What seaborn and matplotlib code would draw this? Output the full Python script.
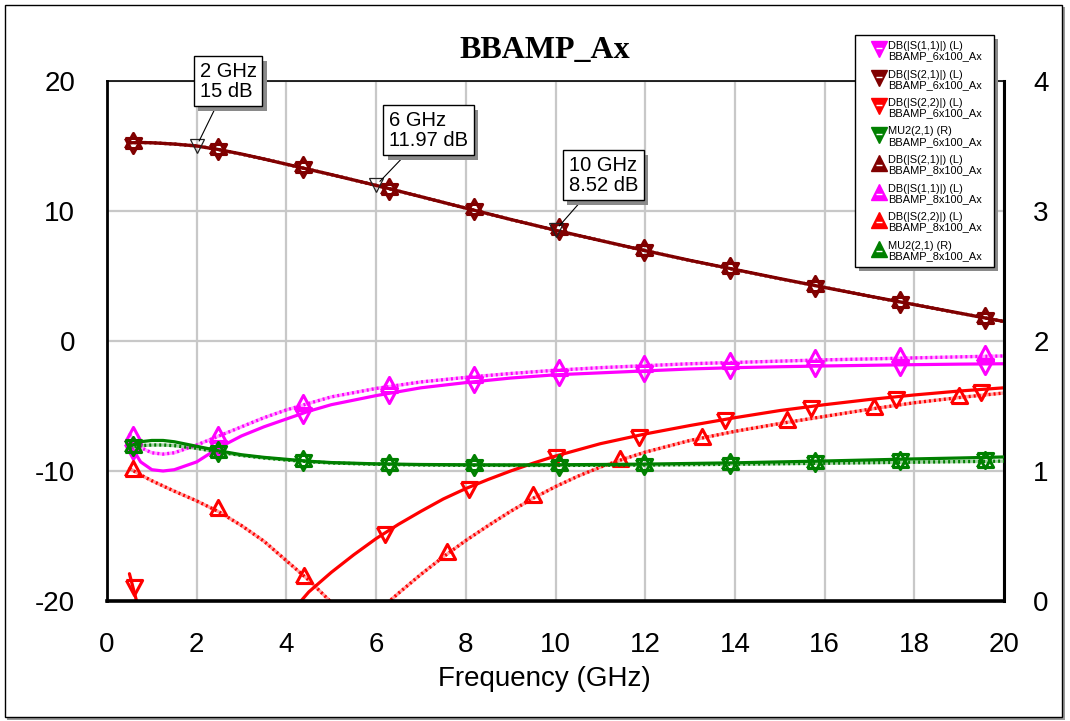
import numpy as np
import pandas as pd
import matplotlib
matplotlib.use("Agg")
import matplotlib.pyplot as plt
import seaborn as sns
from matplotlib.lines import Line2D
from matplotlib.patches import Rectangle
from matplotlib.markers import MarkerStyle
from matplotlib import patheffects as pe

sns.set_theme(style="white")
plt.rcParams["font.family"] = ["Liberation Sans", "DejaVu Sans"]

# ---------------------------------------------------------------- data
FREQ_GHZ = [0.5, 0.75, 1.0, 1.25, 1.5, 2, 2.5, 3, 3.5, 4, 4.5, 5, 6, 7, 8, 9,
            10, 11, 12, 13, 14, 15, 16, 17, 18, 19, 20]

# left axis traces (dB)
S11_6X100 = [-7.9, -9.3, -9.9, -10.0, -9.9, -9.3, -8.2, -7.3, -6.6, -6.0, -5.4, -4.9,
             -4.2, -3.6, -3.2, -2.85, -2.6, -2.45, -2.3, -2.15, -2.05, -1.98, -1.92,
             -1.87, -1.82, -1.78, -1.75]
S21_6X100 = [15.25, 15.27, 15.25, 15.2, 15.15, 15.0, 14.72, 14.38, 14.0, 13.6, 13.2,
             12.8, 11.97, 11.1, 10.22, 9.35, 8.52, 7.73, 6.95, 6.2, 5.5, 4.8, 4.12,
             3.45, 2.8, 2.15, 1.5]
S21_8X100 = [15.25, 15.27, 15.25, 15.2, 15.15, 15.0, 14.72, 14.38, 14.0, 13.6, 13.2,
             12.8, 11.97, 11.1, 10.22, 9.35, 8.52, 7.73, 6.95, 6.2, 5.5, 4.8, 4.12,
             3.45, 2.8, 2.15, 1.5]
S11_8X100 = [-7.2, -8.2, -8.6, -8.7, -8.6, -8.0, -7.3, -6.6, -5.9, -5.3, -4.8, -4.3,
             -3.65, -3.15, -2.8, -2.5, -2.25, -2.05, -1.9, -1.75, -1.65, -1.55, -1.45,
             -1.38, -1.3, -1.22, -1.15]

# output match traces, sampled more finely where they bend
S22_6X100_FREQ = [0.5, 0.75, 1.0, 4.0, 4.5, 5.0, 5.5, 6.0, 6.5, 7.0, 7.5, 8.0, 8.5,
                  9.0, 9.5, 10, 11, 12, 13, 14, 15, 16, 17, 18, 19, 20]
S22_6X100 = [-17.9, -21.2, np.nan, -21.3, -19.3, -17.8, -16.45, -15.2, -14.1, -13.1,
             -12.15, -11.35, -10.65, -10.0, -9.4, -8.85, -7.9, -7.15, -6.5, -5.9,
             -5.35, -4.9, -4.5, -4.15, -3.85, -3.6]
S22_8X100_FREQ = [0.5, 0.75, 1.0, 1.5, 2.0, 2.5, 3.0, 3.5, 4.0, 4.5, 5.0, 6.0, 6.5,
                  7.0, 7.5, 8.0, 8.5, 9.0, 9.5, 10, 10.5, 11, 11.5, 12, 13, 14, 15,
                  16, 17, 18, 19, 20]
S22_8X100 = [-9.8, -10.3, -10.75, -11.55, -12.3, -13.15, -14.2, -15.4, -16.9, -18.4,
             -20.1, -20.9, -19.4, -17.95, -16.6, -15.35, -14.2, -13.1, -12.1, -11.2,
             -10.4, -9.7, -9.1, -8.55, -7.65, -6.95, -6.35, -5.8, -5.25, -4.75,
             -4.35, -4.0]

# right axis traces (MU2)
MU2_6X100 = [1.19, 1.225, 1.235, 1.235, 1.225, 1.19, 1.155, 1.125, 1.105, 1.09, 1.075,
             1.065, 1.055, 1.05, 1.048, 1.047, 1.048, 1.05, 1.053, 1.058, 1.063, 1.07,
             1.077, 1.085, 1.093, 1.1, 1.108]
MU2_8X100 = [1.18, 1.195, 1.2, 1.2, 1.195, 1.175, 1.145, 1.12, 1.1, 1.085, 1.072,
             1.062, 1.052, 1.047, 1.044, 1.043, 1.043, 1.044, 1.046, 1.049, 1.052,
             1.056, 1.06, 1.064, 1.068, 1.072, 1.076]

# symbol positions along the traces
MARK_FREQ = [0.58, 2.48, 4.38, 6.28, 8.18, 10.08, 11.98, 13.88, 15.78, 17.68, 19.58]
S11_6X100_MARK = [-8.3, -8.1, -5.5, -4.0, -3.15, -2.6, -2.3, -2.05, -1.93, -1.83, -1.77]
S11_8X100_MARK = [-7.4, -7.35, -4.9, -3.5, -2.75, -2.25, -1.9, -1.66, -1.47, -1.33, -1.18]
S21_MARK = [15.2, 14.8, 13.4, 11.7, 10.15, 8.6, 7.0, 5.6, 4.2, 3.0, 1.8]
MU2_6X100_MARK = [1.2, 1.155, 1.085, 1.053, 1.048, 1.048, 1.053, 1.063, 1.076, 1.09, 1.103]
MU2_8X100_MARK = [1.185, 1.145, 1.08, 1.05, 1.044, 1.043, 1.046, 1.052, 1.059, 1.066, 1.073]

S22_6X100_MARK_FREQ = [0.6, 6.19, 8.08, 10.02, 11.87, 13.79, 15.7, 17.6, 19.49]
S22_6X100_MARK = [-18.8, -14.7, -11.2, -8.8, -7.25, -5.95, -5.0, -4.3, -3.75]
S22_8X100_MARK_FREQ = [0.58, 2.47, 4.39, 7.57, 9.49, 11.43, 13.27, 15.17, 17.1, 19.0]
S22_8X100_MARK = [-10.0, -13.0, -18.2, -16.4, -12.0, -9.2, -7.5, -6.25, -5.2, -4.35]

# marker readouts on DB(|S(2,1)|)
READ_FREQ = [2, 6, 10]
READ_VAL = [15.0, 11.97, 8.52]
READ_TEXT = ["2 GHz\n15 dB", "6 GHz\n11.97 dB", "10 GHz\n8.52 dB"]
READ_BOX_POS = [(2.07, 21.46), (6.29, 17.69), (10.30, 14.23)]

X_TICKS = list(range(0, 21, 2))
Y_TICKS_L = [-20, -10, 0, 10, 20]
Y_TICKS_R = [0, 1, 2, 3, 4]

MAGENTA = "#ff00ff"
DARKRED = "#800000"
RED = "#ff0000"
GREEN = "#008000"

LEGEND_NAMES = ["DB(|S(1,1)|) (L)", "DB(|S(2,1)|) (L)", "DB(|S(2,2)|) (L)",
                "MU2(2,1) (R)", "DB(|S(2,1)|) (L)", "DB(|S(1,1)|) (L)",
                "DB(|S(2,2)|) (L)", "MU2(2,1) (R)"]
LEGEND_SOURCES = ["BBAMP_6x100_Ax"] * 4 + ["BBAMP_8x100_Ax"] * 4
LEGEND_COLORS = [MAGENTA, DARKRED, RED, GREEN, DARKRED, MAGENTA, RED, GREEN]

# triangles centred on their centroid
TRI_DOWN = MarkerStyle([(-1.0, 0.62), (1.0, 0.62), (0.0, -1.24), (-1.0, 0.62)])
TRI_UP = MarkerStyle([(-1.0, -0.62), (1.0, -0.62), (0.0, 1.24), (-1.0, -0.62)])

# ---------------------------------------------------------------- figure
W, H = 1070, 721
fig = plt.figure(figsize=(W / 100, H / 100), dpi=100)
fig.patch.set_facecolor("white")


def px(x, y):
    """pixel position (origin top-left) -> figure fraction"""
    return x / W, 1 - y / H


# outer frame with drop shadow
fig.patches.append(Rectangle(px(7, 720), 1058 / W, 713 / H,
                             transform=fig.transFigure, fc="#9a9a9a", ec="none", zorder=-3))
fig.patches.append(Rectangle(px(5, 717), 1057 / W, 712 / H,
                             transform=fig.transFigure, fc="white", ec="black", lw=1, zorder=-2))

ax = fig.add_axes([107 / W, 120 / H, 897 / W, 520 / H])
ax.set_facecolor("white")
ax2 = ax.twinx()


def draw_trace(axis, freq, values, color, dotted):
    df = pd.DataFrame({"freq": freq, "val": values})
    df["seg"] = df["val"].isna().cumsum()
    df = df.dropna()
    common = dict(data=df, x="freq", y="val", units="seg", estimator=None, sort=False,
                  ax=axis, legend=False)
    if dotted:
        sns.lineplot(**common, color=color, alpha=0.35, lw=2.4)
        sns.lineplot(**common, color=color, lw=2.4, linestyle=(0, (0.6, 0.9)))
    else:
        sns.lineplot(**common, color=color, lw=2.3)


def draw_marks(axis, xs, ys, color, marker):
    axis.plot(xs, ys, ls="none", marker=marker, ms=14.5, mfc="none", mec=color, mew=2.2,
              clip_on=True)


# 6x100 traces
draw_trace(ax, FREQ_GHZ, S11_6X100, MAGENTA, False)
draw_marks(ax, MARK_FREQ, S11_6X100_MARK, MAGENTA, TRI_DOWN)
draw_trace(ax, FREQ_GHZ, S21_6X100, DARKRED, False)
draw_marks(ax, MARK_FREQ, S21_MARK, DARKRED, TRI_DOWN)
draw_trace(ax, S22_6X100_FREQ, S22_6X100, RED, False)
draw_marks(ax, S22_6X100_MARK_FREQ, S22_6X100_MARK, RED, TRI_DOWN)
# 8x100 traces
draw_trace(ax, FREQ_GHZ, S21_8X100, DARKRED, True)
draw_marks(ax, MARK_FREQ, S21_MARK, DARKRED, TRI_UP)
draw_trace(ax, FREQ_GHZ, S11_8X100, MAGENTA, True)
draw_marks(ax, MARK_FREQ, S11_8X100_MARK, MAGENTA, TRI_UP)
draw_trace(ax, S22_8X100_FREQ, S22_8X100, RED, True)
draw_marks(ax, S22_8X100_MARK_FREQ, S22_8X100_MARK, RED, TRI_UP)

# stability factor on the right axis
draw_trace(ax2, FREQ_GHZ, MU2_6X100, GREEN, False)
draw_marks(ax2, MARK_FREQ, MU2_6X100_MARK, GREEN, TRI_DOWN)
draw_trace(ax2, FREQ_GHZ, MU2_8X100, GREEN, True)
draw_marks(ax2, MARK_FREQ, MU2_8X100_MARK, GREEN, TRI_UP)

# axes styling
ax.set_xlim(0, 20)
ax.set_ylim(-20, 20)
ax2.set_ylim(0, 4)
ax.set_xticks(X_TICKS)
ax.set_yticks(Y_TICKS_L)
ax2.set_yticks(Y_TICKS_R)
ax.set_xticklabels([str(v) for v in X_TICKS])
ax.set_yticklabels([str(v) for v in Y_TICKS_L])
ax2.set_yticklabels([str(v) for v in Y_TICKS_R])
ax.tick_params(axis="x", length=0, pad=22, labelsize=20, colors="black")
ax.tick_params(axis="y", length=0, pad=23, labelsize=20, colors="black")
ax2.tick_params(axis="y", length=0, pad=21, labelsize=20, colors="black")
ax.set_ylabel("")
ax2.set_ylabel("")
ax.set_axisbelow(True)
ax.grid(True, color="#c8c8c8", lw=1.6)
ax2.grid(False)

for name, lw in (("left", 2.0), ("bottom", 2.6), ("top", 1.2), ("right", 2.2)):
    ax.spines[name].set_visible(True)
    ax.spines[name].set_color("black")
    ax.spines[name].set_linewidth(lw)
for sp in ax2.spines.values():
    sp.set_visible(False)

ax.set_xlabel("Frequency (GHz)", fontsize=20, color="black")
ax.xaxis.set_label_coords((544 - 107) / 897, -(666 - 601) / 520)

fig.text(*px(545, 50), "BBAMP_Ax", ha="center", va="center", fontsize=23,
         fontweight="bold", family=["Liberation Serif", "DejaVu Serif"], color="black")

# readout markers with callout boxes
for fx, fv, txt, (bx, by) in zip(READ_FREQ, READ_VAL, READ_TEXT, READ_BOX_POS):
    ax.plot([fx], [fv], ls="none", marker="v", ms=10, mfc="none", mec="#222222", mew=0.9,
            zorder=6)
    ann = ax.annotate(txt, xy=(fx, fv), xytext=(bx, by), textcoords="data",
                      ha="left", va="top", fontsize=14.5, color="black", zorder=7,
                      annotation_clip=False, linespacing=1.05,
                      bbox=dict(boxstyle="square,pad=0.28", fc="white", ec="black", lw=1),
                      arrowprops=dict(arrowstyle="-", color="black", lw=0.8,
                                      shrinkA=0, shrinkB=4))
    ann.get_bbox_patch().set_path_effects(
        [pe.SimplePatchShadow(offset=(3, -3), shadow_rgbFace="#8a8a8a", alpha=1.0),
         pe.Normal()])

# trace legend box (upper right, overlapping the title band)
LX0, LY0, LX1, LY1 = 855, 35, 994, 267
fig.patches.append(Rectangle(px(LX0 + 4, LY1 + 4), (LX1 - LX0) / W, (LY1 - LY0) / H,
                             transform=fig.transFigure, fc="#8a8a8a", ec="none", zorder=8))
fig.patches.append(Rectangle(px(LX0, LY1), (LX1 - LX0) / W, (LY1 - LY0) / H,
                             transform=fig.transFigure, fc="white", ec="black", lw=1,
                             zorder=9))
for i, (name, src, col) in enumerate(zip(LEGEND_NAMES, LEGEND_SOURCES, LEGEND_COLORS)):
    yc = 49 + 28.5 * i
    mk = "v" if i < 4 else "^"
    fig.add_artist(Line2D([879 / W], [1 - yc / H], transform=fig.transFigure, ls="none",
                          marker=mk, ms=11, mfc=col, mec=col, mew=1, zorder=10))
    fig.add_artist(Line2D([879 / W], [1 - (yc + (-1 if i < 4 else 2)) / H],
                          transform=fig.transFigure, ls="none", marker="_", ms=5,
                          mec="white", mew=1.0, zorder=11))
    fig.text(*px(888, yc - 3), name, fontsize=7.9, ha="left", va="center",
             color="black", zorder=10)
    fig.text(*px(888, yc + 7.5), src, fontsize=7.9, ha="left", va="center",
             color="black", zorder=10)

fig.savefig("out.png", dpi=100, facecolor="white")
